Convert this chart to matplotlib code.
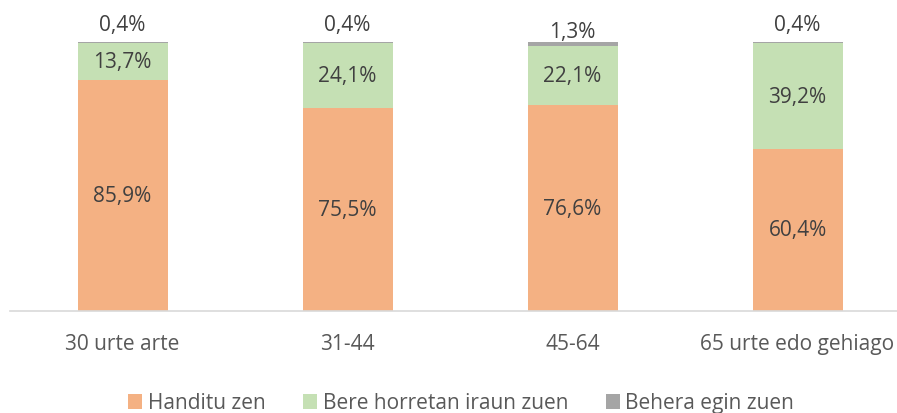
import numpy as np
import matplotlib
matplotlib.use("Agg")
import matplotlib.pyplot as plt

plt.rcParams["font.family"] = ["Open Sans", "DejaVu Sans"]

categories = ["30 urte arte", "31-44", "45-64", "65 urte edo gehiago"]
series_names = ["Handitu zen", "Bere horretan iraun zuen", "Behera egin zuen"]
handitu = [85.9, 75.5, 76.6, 60.4]
bere = [13.7, 24.1, 22.1, 39.2]
behera = [0.4, 0.4, 1.3, 0.4]

colors = ["#F4B183", "#C5E0B4", "#A5A5A5"]
top_label_offset = [18, 18, 13, 18]  # pixels above the small grey segment

fig = plt.figure(figsize=(8.97, 4.14), dpi=100)
ax = fig.add_axes([10 / 897, 102 / 414, 900 / 897, 268.7 / 414])

x = np.arange(len(categories))
width = 0.4
bottom = np.zeros(len(categories))
for name, vals, col in zip(series_names, [handitu, bere, behera], colors):
    vals = np.array(vals)
    ax.bar(x, vals, width, bottom=bottom, color=col, label=name, linewidth=0)
    if name != series_names[-1]:
        for xi, b, v in zip(x, bottom, vals):
            ax.text(xi, b + v / 2, f"{v:.1f}".replace(".", ",") + "%",
                    ha="center", va="center", fontsize=15, color="#404040")
    else:
        for xi, b, v, off in zip(x, bottom, vals, top_label_offset):
            ax.annotate(f"{v:.1f}".replace(".", ",") + "%", (xi, b + v / 2),
                        xytext=(0, off), textcoords="offset pixels",
                        ha="center", va="center", fontsize=15, color="#404040")
    bottom += vals

ax.set_xlim(-0.5, 3.5)
ax.set_ylim(0, 100)
ax.set_yticks([])
ax.set_xticks(x)
ax.set_xticklabels(categories, fontsize=15, color="#595959")
ax.tick_params(axis="x", length=0, pad=16)
for s in ["top", "right", "left"]:
    ax.spines[s].set_visible(False)
ax.spines["bottom"].set_color("#D9D9D9")
ax.spines["bottom"].set_linewidth(1.2)

fig.legend(loc="center", bbox_to_anchor=(461 / 897, 10 / 414), ncol=3, frameon=False,
           fontsize=15, labelcolor="#595959", handlelength=0.7, handleheight=0.7,
           handletextpad=0.25, columnspacing=1.8)

fig.savefig("out.png", dpi=100)
